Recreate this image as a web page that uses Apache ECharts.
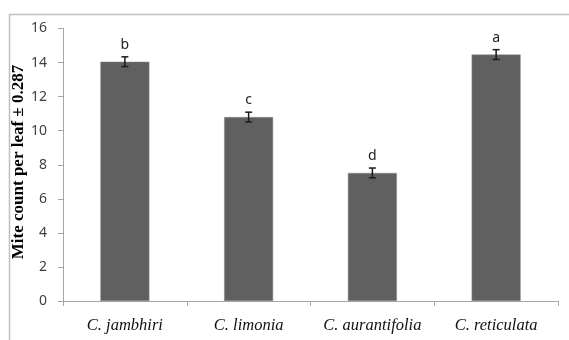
<!DOCTYPE html>
<html>
<head>
<meta charset="utf-8">
<script src="https://cdn.jsdelivr.net/npm/echarts@6/dist/echarts.min.js"></script>
<style>html,body{margin:0;padding:0;background:#fff;}#c{width:569px;height:340px;}</style>
</head>
<body>
<div id="c"></div>
<script>
const categories = ['C. jambhiri', 'C. limonia', 'C. aurantifolia', 'C. reticulata'];
const values = [14.05, 10.8, 7.52, 14.47];
const errors = [0.287, 0.287, 0.287, 0.287];
const letters = ['b', 'c', 'd', 'a'];
const yTicks = { min: 0, max: 16, interval: 2 };
const yTitle = 'Mite count per leaf \u00b1 0.287';

const chart = echarts.init(document.getElementById('c'), null, {renderer: 'canvas'});
const errData = values.map((v, i) => [i, v, errors[i]]);
chart.setOption({
  animation: false,
  backgroundColor: '#fff',
  graphic: [{
    type: 'rect', left: 7, top: 12, shape: {width: 700, height: 500}, silent: true, z: -1,
    style: {fill: 'none', stroke: '#bfbfbf', lineWidth: 1.5}
  }, {
    type: 'text', x: 19, y: 162, rotation: Math.PI / 2, silent: true,
    style: {text: yTitle, align: 'center', verticalAlign: 'middle', fill: '#000',
      font: 'bold 17px "Liberation Serif"'}
  }],
  grid: {left: 63, right: 11, top: 28.5, bottom: 39},
  xAxis: {
    type: 'category', data: categories,
    axisLine: {lineStyle: {color: '#a6a6a6', width: 1}},
    axisTick: {show: true, interval: 0, length: 5, lineStyle: {color: '#a6a6a6'}},
    axisLabel: {interval: 0, hideOverlap: false, color: '#111', fontFamily: 'Liberation Serif', fontStyle: 'italic', fontSize: 16.5, margin: 16}
  },
  yAxis: {
    type: 'value', min: yTicks.min, max: yTicks.max, interval: yTicks.interval,
    axisLine: {show: true, lineStyle: {color: '#a6a6a6', width: 1}},
    axisTick: {show: true, length: 5, inside: false, lineStyle: {color: '#a6a6a6'}},
    splitLine: {show: false},
    axisLabel: {color: '#404040', fontFamily: 'Noto Sans', fontSize: 14, margin: 16}
  },
  series: [{
    type: 'bar', data: values, barWidth: 49,
    itemStyle: {color: '#606060', borderColor: '#8a8a8a', borderWidth: 0.5}
  }, {
    type: 'custom', data: errData, z: 10,
    renderItem: function (params, api) {
      const i = api.value(0), v = api.value(1), e = api.value(2);
      const top = api.coord([i, v + e]);
      const bot = api.coord([i, v - e]);
      const x = top[0];
      const hw = 3.5;
      const st = {stroke: '#1a1a1a', lineWidth: 1.5};
      return {
        type: 'group',
        children: [
          {type: 'line', shape: {x1: x, y1: top[1], x2: x, y2: bot[1]}, style: st},
          {type: 'line', shape: {x1: x - hw, y1: top[1], x2: x + hw, y2: top[1]}, style: st},
          {type: 'line', shape: {x1: x - hw, y1: bot[1], x2: x + hw, y2: bot[1]}, style: st},
          {type: 'text', style: {text: letters[params.dataIndex], x: x, y: top[1] - 12,
            align: 'center', verticalAlign: 'middle', fill: '#222', fontSize: 14, fontFamily: 'Noto Sans'}}
        ]
      };
    }
  }]
});
</script>
</body>
</html>
